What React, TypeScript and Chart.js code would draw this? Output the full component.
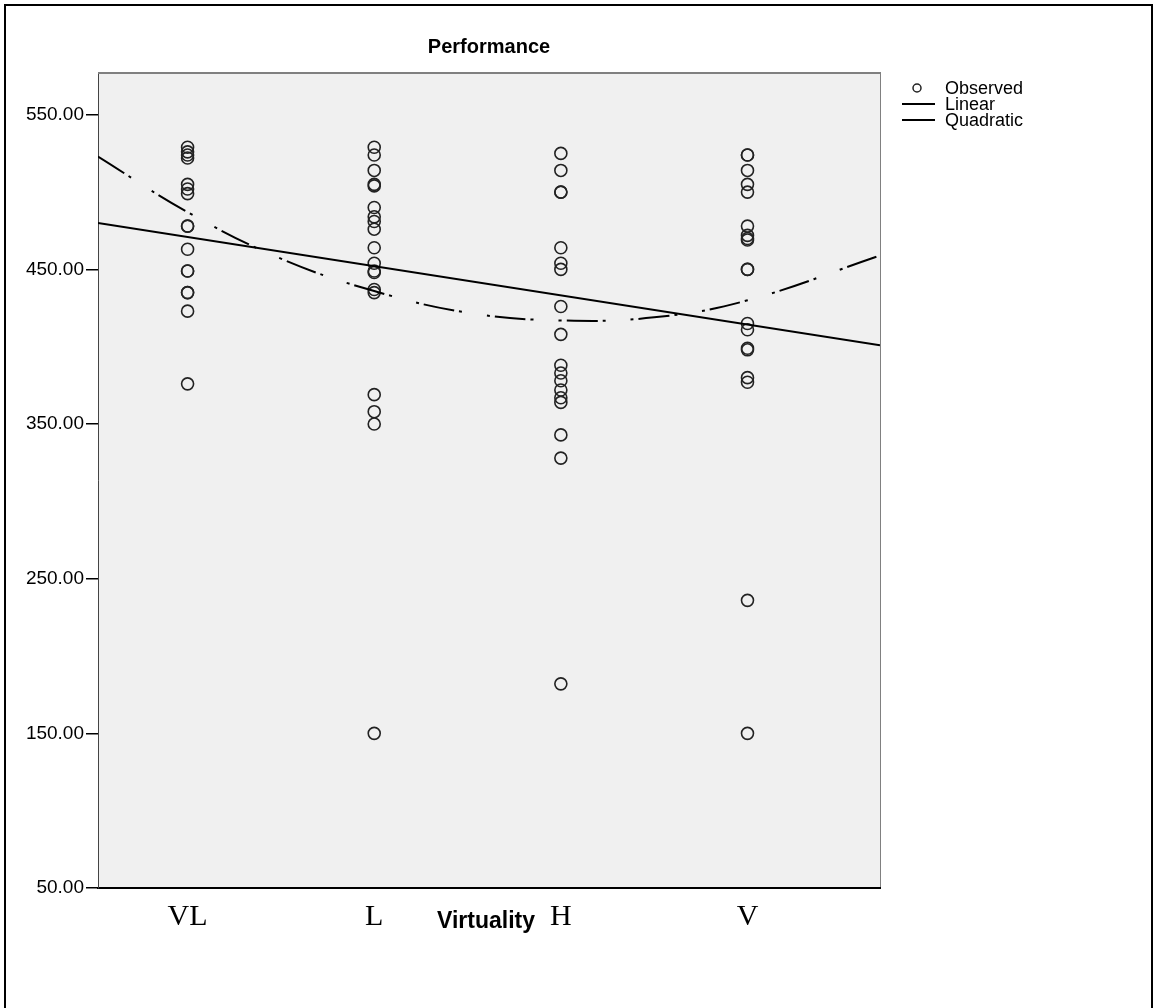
import React, { useEffect, useRef } from "react";
import { Chart, registerables } from "chart.js";

Chart.register(...registerables);

// ---- data ----
const categories = ["VL", "L", "H", "V"];
const categoryX = [1, 2, 3, 4];

const vlValues = [529, 526, 524, 522, 505, 502, 499, 478, 478, 463, 449, 449, 435, 435, 423, 376];
const lValues = [529, 524, 514, 505, 504, 490, 484, 481, 476, 464, 454, 449, 448, 437, 435, 369, 358, 350, 150];
const hValues = [525, 514, 500, 500, 464, 454, 450, 426, 408, 388, 383, 378, 372, 367, 364, 343, 328, 182];
const vValues = [524, 524, 514, 505, 500, 478, 472, 470, 469, 450, 450, 415, 411, 399, 398, 380, 377, 236, 150];

const linearX = [0.52, 4.71];
const linearY = [480, 401];

const quadX = [0.52, 1, 1.5, 2, 2.5, 3, 3.5, 4, 4.71];
const quadY = [523, 487, 457, 436, 422, 417, 419, 430, 459];

const yTicks = [50, 150, 250, 350, 450, 550];
const xMin = 0.52;
const xMax = 4.71;
const yMin = 50;
const yMax = 577;

const titleText = "Performance";
const xTitle = "Virtuality";
const legendLabels = ["Observed", "Linear", "Quadratic"];

const W = 1155;
const H = 1008;

export default function App() {
  const ref = useRef<HTMLCanvasElement | null>(null);

  useEffect(() => {
    const canvas = ref.current;
    if (!canvas) return;

    const groups = [vlValues, lValues, hValues, vValues];
    const observed: { x: number; y: number }[] = [];
    groups.forEach((vals, i) => vals.forEach((v) => observed.push({ x: categoryX[i], y: v })));

    const quadDash = [31, 5, 3, 25, 3, 5];

    const decor = {
      id: "decor",
      beforeDraw(chart: any) {
        const { ctx, chartArea: a } = chart;
        ctx.save();
        ctx.fillStyle = "#ffffff";
        ctx.fillRect(0, 0, W, H);
        // outer frame
        ctx.fillStyle = "#000000";
        ctx.fillRect(4, 4, 2, H);
        ctx.fillRect(4, 4, W - 7, 2);
        ctx.fillRect(W - 4, 4, 2, H);
        // plot background
        ctx.fillStyle = "#f0f0f0";
        ctx.fillRect(a.left, a.top, a.right - a.left, a.bottom - a.top);
        ctx.restore();
      },
      afterDraw(chart: any) {
        const { ctx, chartArea: a } = chart;
        ctx.save();
        // top & right plot frame
        ctx.fillStyle = "#808080";
        ctx.fillRect(a.left, a.top - 1, a.right - a.left + 1, 2);
        ctx.fillRect(a.right, a.top - 1, 1, a.bottom - a.top);
        // title
        ctx.fillStyle = "#000";
        ctx.font = "bold 20px 'Liberation Sans', Arial, sans-serif";
        ctx.textAlign = "center";
        ctx.textBaseline = "middle";
        ctx.fillText(titleText, (a.left + a.right) / 2, 47);
        // x title
        ctx.font = "bold 23px 'Liberation Sans', Arial, sans-serif";
        ctx.textBaseline = "alphabetic";
        ctx.fillText(xTitle, 486, 928);
        // legend
        ctx.textAlign = "left";
        ctx.textBaseline = "middle";
        ctx.font = "18px 'Liberation Sans', Arial, sans-serif";
        const lx = a.right + 22;
        const rows = [88, 104, 120];
        ctx.strokeStyle = "#222";
        ctx.lineWidth = 1.5;
        ctx.beginPath();
        ctx.arc(lx + 15, rows[0], 4, 0, Math.PI * 2);
        ctx.stroke();
        ctx.lineWidth = 2;
        ctx.strokeStyle = "#000";
        ctx.beginPath();
        ctx.moveTo(lx, rows[1]);
        ctx.lineTo(lx + 33, rows[1]);
        ctx.moveTo(lx, rows[2]);
        ctx.lineTo(lx + 33, rows[2]);
        ctx.stroke();
        ctx.fillStyle = "#000";
        legendLabels.forEach((t, i) => ctx.fillText(t, lx + 43, rows[i] + 1));
        ctx.restore();
      },
    };

    const chart = new Chart(canvas, {
      type: "scatter",
      data: {
        datasets: [
          {
            label: "Linear",
            data: linearX.map((x, i) => ({ x, y: linearY[i] })),
            showLine: true,
            borderColor: "#000",
            borderWidth: 2,
            pointRadius: 0,
            tension: 0,
          },
          {
            label: "Quadratic",
            data: quadX.map((x, i) => ({ x, y: quadY[i] })),
            showLine: true,
            borderColor: "#000",
            borderWidth: 2,
            borderDash: quadDash,
            pointRadius: 0,
            tension: 0.4,
          },
          {
            label: "Observed",
            data: observed,
            showLine: false,
            pointStyle: "circle",
            pointRadius: 6,
            pointBorderWidth: 1.6,
            borderColor: "#222",
            backgroundColor: "rgba(0,0,0,0)",
          },
        ],
      } as any,
      options: {
        responsive: false,
        animation: false,
        devicePixelRatio: 1,
        layout: { padding: { top: 73, right: W - 880, left: 0, bottom: 0 } },
        plugins: {
          legend: { display: false },
          title: { display: false },
          tooltip: { enabled: false },
        },
        scales: {
          x: {
            type: "linear",
            min: xMin,
            max: xMax,
            afterBuildTicks: (s: any) => {
              s.ticks = categoryX.map((v) => ({ value: v }));
            },
            afterFit: (s: any) => {
              s.height = H - 888;
            },
            ticks: {
              autoSkip: false,
              maxRotation: 0,
              color: "#000",
              padding: 11,
              font: { family: "'Liberation Serif', 'Times New Roman', serif", size: 30 },
              callback: (v: any) => categories[categoryX.indexOf(Number(v))] ?? "",
            },
            grid: { display: true, drawOnChartArea: false, drawTicks: false },
            border: { display: true, color: "#000", width: 2 },
          },
          y: {
            type: "linear",
            min: yMin,
            max: yMax,
            afterBuildTicks: (s: any) => {
              s.ticks = yTicks.map((v) => ({ value: v }));
            },
            afterFit: (s: any) => {
              s.width = 98;
            },
            ticks: {
              color: "#000",
              padding: 2,
              font: { family: "'Liberation Sans', Arial, sans-serif", size: 19 },
              callback: (v: any) => Number(v).toFixed(2),
            },
            grid: {
              display: true,
              drawOnChartArea: false,
              drawTicks: true,
              tickLength: 12,
              color: "#000",
              lineWidth: 1.5,
            },
            border: { display: true, color: "#444", width: 1 },
          },
        },
      } as any,
      plugins: [decor],
    });

    return () => chart.destroy();
  }, []);

  return (
    <div style={{ position: "absolute", left: 0, top: 0, width: W, height: H }}>
      <canvas ref={ref} width={W} height={H} style={{ width: W, height: H, display: "block" }} />
    </div>
  );
}
